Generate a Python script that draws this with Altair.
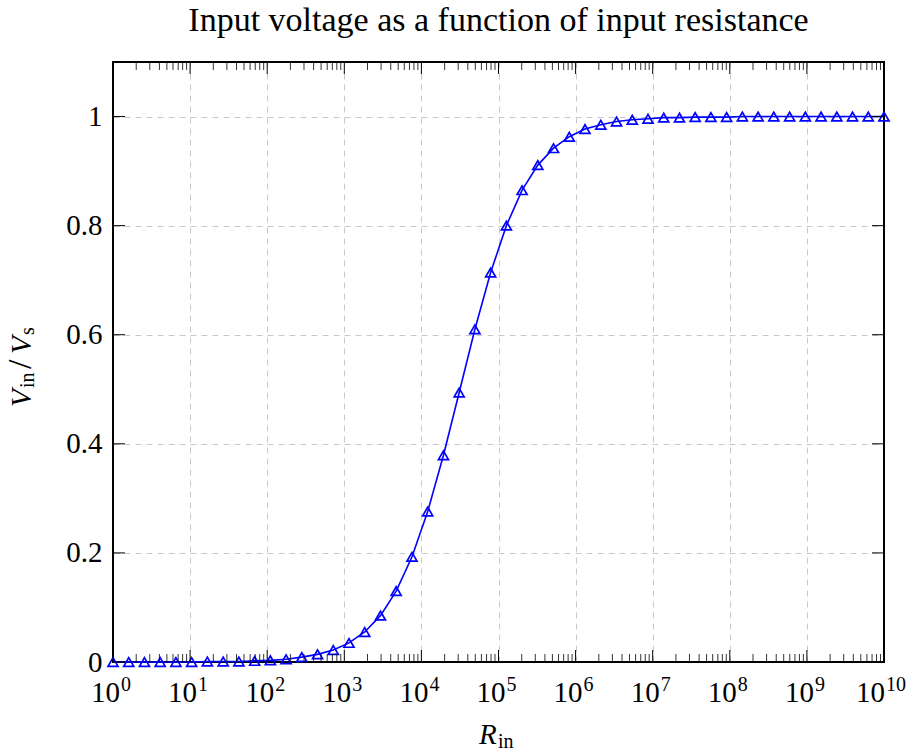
import altair as alt
import pandas as pd

# log10 of input resistance at each sample (50 samples, 10^0 .. 10^10)
log_rin = [0.000, 0.204, 0.408, 0.612, 0.816, 1.020, 1.224, 1.429, 1.633, 1.837,
           2.041, 2.245, 2.449, 2.653, 2.857, 3.061, 3.265, 3.469, 3.673, 3.878,
           4.082, 4.286, 4.490, 4.694, 4.898, 5.102, 5.306, 5.510, 5.714, 5.918,
           6.122, 6.327, 6.531, 6.735, 6.939, 7.143, 7.347, 7.551, 7.755, 7.959,
           8.163, 8.367, 8.571, 8.776, 8.980, 9.184, 9.388, 9.592, 9.796, 10.000]
# Vin / Vs
ratio = [0.000, 0.000, 0.000, 0.000, 0.000, 0.000, 0.001, 0.001, 0.001, 0.002,
         0.003, 0.005, 0.009, 0.014, 0.022, 0.035, 0.055, 0.085, 0.130, 0.193,
         0.276, 0.379, 0.494, 0.610, 0.714, 0.800, 0.865, 0.911, 0.942, 0.963,
         0.977, 0.985, 0.991, 0.994, 0.996, 0.998, 0.998, 0.999, 0.999, 0.999,
         1.000, 1.000, 1.000, 1.000, 1.000, 1.000, 1.000, 1.000, 1.000, 1.000]

decades = [1, 10, 100, 1e3, 1e4, 1e5, 1e6, 1e7, 1e8, 1e9, 1e10]
exponents = ["0", "1", "2", "3", "4", "5", "6", "7", "8", "9", "10"]
minor_mult = [2, 3, 4, 5, 6, 7, 8, 9]
y_ticks = [0, 0.2, 0.4, 0.6, 0.8, 1.0]

FONT = "Liberation Serif"
BLUE = "#0000ff"
GRID = "#c8c8c8"
W, H = 771, 600

df = pd.DataFrame({"R": [10 ** v for v in log_rin], "ratio": ratio})
major_df = pd.DataFrame({"R": decades, "exp": exponents})
minor_df = pd.DataFrame({"R": [m * d for d in decades[:-1] for m in minor_mult]})
yt_df = pd.DataFrame({"v": y_ticks})
one = pd.DataFrame({"a": [0]})

xscale = alt.Scale(type="log", domain=[1, 1e10], nice=False)
yscale = alt.Scale(domain=[0, 1.1], nice=False)

xaxis = alt.Axis(values=decades[1:-1], labels=False, ticks=False, domain=False, grid=True,
                 gridDash=[6, 5], gridColor=GRID, gridWidth=1, title=None)
yaxis = alt.Axis(values=y_ticks, format=".1~f", labelFont=FONT, labelFontSize=29,
                 labelColor="black", labelPadding=11, ticks=False, domain=False,
                 grid=True, gridDash=[6, 5], gridColor=GRID, gridWidth=1, title=None)

# frame drawn above the grid lines
frame = alt.Chart(one).mark_rect(fill=None, stroke="black", strokeWidth=2).encode(
    x=alt.value(0), x2=alt.value(W), y=alt.value(0), y2=alt.value(H))

base = alt.Chart(df).encode(
    x=alt.X("R:Q", scale=xscale, axis=xaxis),
    y=alt.Y("ratio:Q", scale=yscale, axis=yaxis),
)
line = base.mark_line(color=BLUE, strokeWidth=1.6)
pts = base.mark_point(shape="triangle-up", filled=False, color=BLUE, size=100,
                      strokeWidth=1.7, opacity=1)

# tick marks drawn inside the frame (pgfplots style)
def xticks(data, y0, y1, width):
    return alt.Chart(data).mark_rule(color="black", strokeWidth=width).encode(
        x=alt.X("R:Q", scale=xscale), y=alt.value(y0), y2=alt.value(y1))

def yticks(x0, x1):
    return alt.Chart(yt_df).mark_rule(color="black", strokeWidth=1).encode(
        y=alt.Y("v:Q", scale=yscale), x=alt.value(x0), x2=alt.value(x1))

tick_layers = [
    xticks(major_df, H, H - 12, 1), xticks(major_df, 0, 12, 1),
    xticks(minor_df, H, H - 8, 0.8), xticks(minor_df, 0, 8, 0.8),
    yticks(0, 12), yticks(W, W - 12),
]

# x tick labels 10^k
single = alt.datum.exp != "10"
lab_base_1 = alt.Chart(major_df).transform_filter(single).mark_text(
    text="10", font=FONT, fontSize=29, align="right", baseline="alphabetic", dx=7,
    color="black").encode(x=alt.X("R:Q", scale=xscale), y=alt.value(640))
lab_exp_1 = alt.Chart(major_df).transform_filter(single).mark_text(
    font=FONT, fontSize=20, align="left", baseline="alphabetic", dx=8,
    color="black").encode(x=alt.X("R:Q", scale=xscale), y=alt.value(629), text="exp:N")
lab_base_2 = alt.Chart(major_df).transform_filter(~single).mark_text(
    text="10", font=FONT, fontSize=29, align="right", baseline="alphabetic", dx=1,
    color="black").encode(x=alt.X("R:Q", scale=xscale), y=alt.value(640))
lab_exp_2 = alt.Chart(major_df).transform_filter(~single).mark_text(
    font=FONT, fontSize=20, align="left", baseline="alphabetic", dx=2,
    color="black").encode(x=alt.X("R:Q", scale=xscale), y=alt.value(629), text="exp:N")

# axis titles
def txt(s, x, y, size=29, italic=False, angle=0):
    kw = dict(text=s, font=FONT, fontSize=size, align="left", baseline="alphabetic",
              color="black")
    if italic:
        kw["fontStyle"] = "italic"
    if angle:
        kw["angle"] = angle
    return alt.Chart(one).mark_text(**kw).encode(x=alt.value(x), y=alt.value(y))

titles = [
    txt("R", 366, 682, italic=True), txt("in", 385, 686, size=20),
    txt("V", -82, 345, italic=True, angle=270), txt("in", -79, 326, size=20, angle=270),
    txt("/", -82, 307, size=34, angle=270),
    txt("V", -82, 292, italic=True, angle=270), txt("s", -79, 273, size=20, angle=270),
]

chart = alt.layer(
    frame, line, pts, *tick_layers, lab_base_1, lab_exp_1, lab_base_2, lab_exp_2, *titles
).properties(
    width=W, height=H,
    autosize=alt.AutoSizeParams(type="none"),
    padding={"left": 113, "top": 62, "right": 29, "bottom": 90},
    title=alt.TitleParams("Input voltage as a function of input resistance",
                          font=FONT, fontSize=34, fontWeight="normal", color="black",
                          anchor="middle", offset=23),
).configure_view(strokeWidth=0)

chart.save("out.html", embed_options={"renderer": "svg", "actions": False})
